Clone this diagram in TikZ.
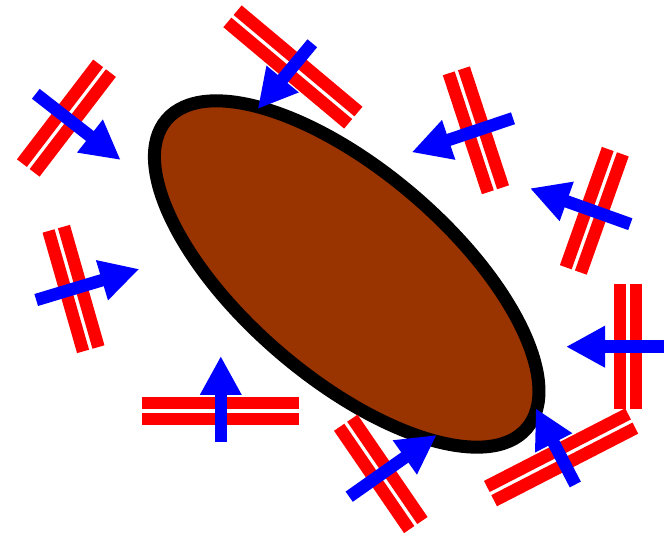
\documentclass[tikz,border=0pt]{standalone}
\usetikzlibrary{arrows.meta}
\definecolor{bodybrown}{RGB}{153,51,0}
\newcommand\barpair[4]{%
  \begin{scope}[shift={(#1,#2)},rotate=#3]
    \draw[redbar] (-#4/2,8) -- (#4/2,8);
    \draw[redbar] (-#4/2,-8) -- (#4/2,-8);
  \end{scope}}
\begin{document}
\begin{tikzpicture}[x=1pt,y=-1pt,
  redbar/.style={draw=red, line width=12.5pt},
  bluearrow/.style={draw=blue, line width=12.5pt, -{Triangle[width=39pt,length=39pt]}},
  body/.style={draw=black, fill=bodybrown, line width=13pt}]
\useasboundingbox (0,0) rectangle (670,534);
% body
\draw[body, rotate around={-40.6:(346.7,274)}] (346.7,274) ellipse [x radius=237.2, y radius=103.3];
% bar pairs
\barpair{66.4}{118.1}{52.6}{125.6}
\barpair{292.9}{67}{-40}{157.7}
\barpair{475.9}{130.3}{108.2}{125.2}
\barpair{594.3}{210.8}{70.45}{125.5}
\barpair{73.5}{289}{106}{125.3}
\barpair{628.2}{346.5}{90}{125}
\barpair{220.8}{410.8}{0}{157}
\barpair{380.8}{473.9}{-55.6}{124}
\barpair{561.1}{457.3}{27.2}{158.8}
% arrows
\coordinate (a1) at (35.8,93.8);   \coordinate (b1) at (120.7,160);
\coordinate (a2) at (312.3,43.3);  \coordinate (b2) at (257.7,109);
\coordinate (a3) at (513,118.3);   \coordinate (b3) at (411.7,152.3);
\coordinate (a4) at (630.3,224.2); \coordinate (b4) at (530,188.3);
\coordinate (a5) at (36.2,300);    \coordinate (b5) at (139.3,269);
\coordinate (a6) at (664,346.7);   \coordinate (b6) at (566,346.7);
\coordinate (a7) at (220.8,442.3); \coordinate (b7) at (220.8,356);
\coordinate (a8) at (349.2,496.7); \coordinate (b8) at (436.7,435);
\coordinate (a9) at (575.3,484.5); \coordinate (b9) at (535.7,408.3);
\foreach \i in {1,...,9} {\draw[bluearrow] (a\i) -- (b\i);}
\end{tikzpicture}
\end{document}
